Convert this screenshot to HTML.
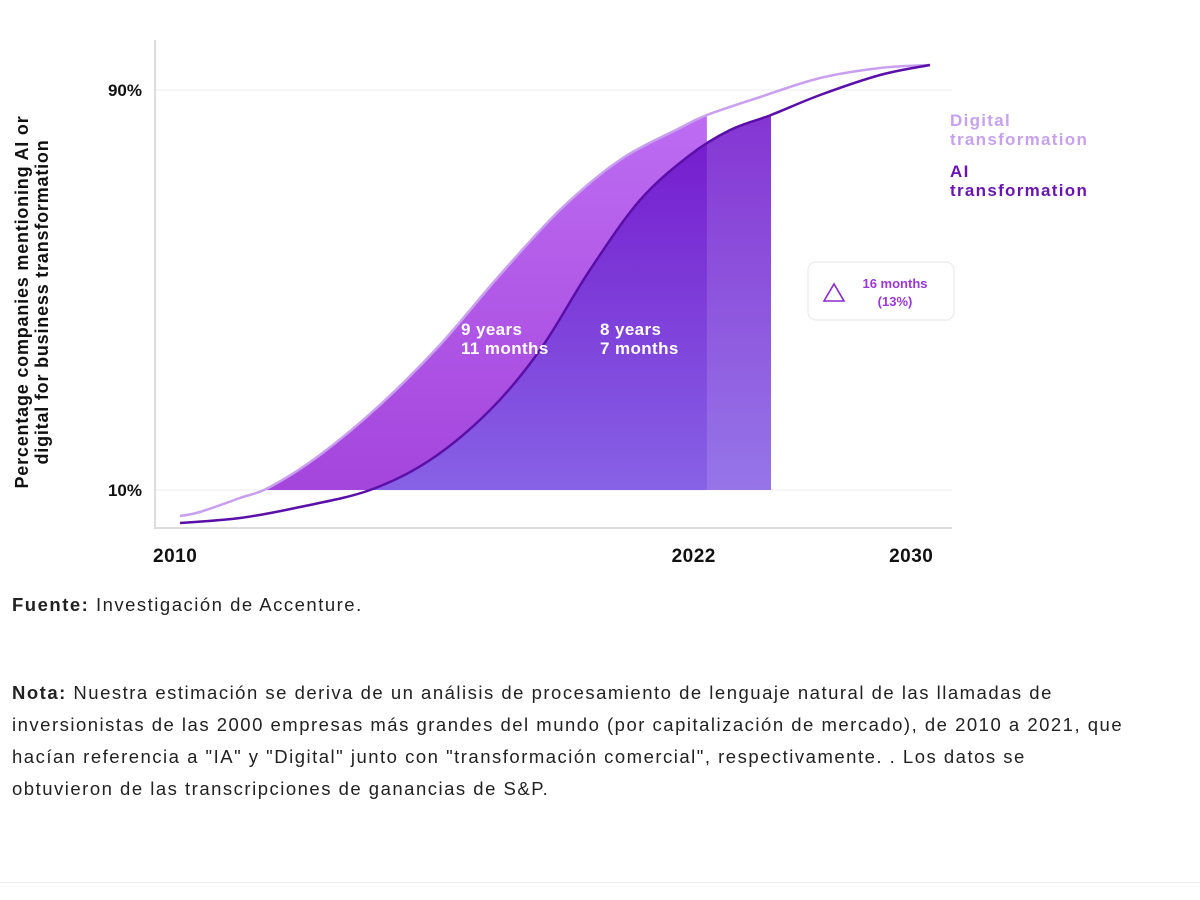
<!DOCTYPE html>
<html><head><meta charset="utf-8"><style>
body{margin:0;background:#fff;width:1200px;height:900px;overflow:hidden;font-family:"Liberation Sans",sans-serif}
.t{position:absolute;font-size:18.5px;color:#222;line-height:32px;letter-spacing:1.5px}
</style></head><body>
<svg width="1200" height="580" style="position:absolute;left:0;top:0">
<defs>
<linearGradient id="gd" x1="0" y1="0" x2="0" y2="1"><stop offset="0" stop-color="#bd6cf2"/><stop offset="1" stop-color="#a445dc"/></linearGradient>
<linearGradient id="ga" x1="0" y1="0" x2="0" y2="1"><stop offset="0" stop-color="#7418cc"/><stop offset="1" stop-color="#8762e6"/></linearGradient>
</defs>
<g id="g"></g>
</svg>
<div class="t" style="left:12px;top:589px"><b>Fuente:</b> Investigación de Accenture.</div>
<div class="t" style="left:12px;top:677px;width:1120px"><b>Nota:</b> Nuestra estimación se deriva de un análisis de procesamiento de lenguaje natural de las llamadas de inversionistas de las 2000 empresas más grandes del mundo (por capitalización de mercado), de 2010 a 2021, que hacían referencia a "IA" y "Digital" junto con "transformación comercial", respectivamente. . Los datos se obtuvieron de las transcripciones de ganancias de S&amp;P.</div>
<div style="position:absolute;left:0;top:882px;width:1200px;height:1px;background:#eee"></div>
<script>
const digitalYears=[2010,2010.53,2011.6,2012.4,2013.73,2015.33,2016.93,2018.53,2020.13,2021.73,2023.33,2024.05,2025.47,2027.07,2028.67,2030];
const digitalPct=[4.8,5.6,8.4,10.6,17,27,39,53,66,76,82.4,85,88.6,92.4,94.4,95];
const aiYears=[2010,2011.6,2013.2,2015.07,2016.67,2018.27,2019.6,2020.93,2022.27,2023.6,2024.67,2025.76,2027.07,2028.67,2030];
const aiPct=[3.4,4.4,6.6,10,16,26,38,54,68,77,82,85,89,93,95];
const digitalEnd=2024.05, aiEnd=2025.76, basePct=10;
const yTicks=[10,90], yTickLabels=["10%","90%"];
const xTicks=[2010,2023.7,2029.5], xTickLabels=["2010","2022","2030"];
const X=v=>180+(v-2010)*37.5, Y=p=>490-(p-10)*5;
const NS="http://www.w3.org/2000/svg", g=document.getElementById('g');
function mk(tag,attrs,txt){const e=document.createElementNS(NS,tag);for(const k in attrs)e.setAttribute(k,attrs[k]);if(txt)e.textContent=txt;g.appendChild(e);return e;}
function interp(xs,ys,x){for(let i=1;i<xs.length;i++)if(x<=xs[i]){const t=(x-xs[i-1])/(xs[i]-xs[i-1]);return ys[i-1]+t*(ys[i]-ys[i-1]);}return ys[ys.length-1];}
function smooth(pts){let d="M"+pts[0][0]+","+pts[0][1];for(let i=0;i<pts.length-1;i++){const p0=pts[Math.max(0,i-1)],p1=pts[i],p2=pts[i+1],p3=pts[Math.min(pts.length-1,i+2)];d+=" C"+(p1[0]+(p2[0]-p0[0])/6)+","+(p1[1]+(p2[1]-p0[1])/6)+" "+(p2[0]-(p3[0]-p1[0])/6)+","+(p2[1]-(p3[1]-p1[1])/6)+" "+p2[0]+","+p2[1];}return d;}
function area(xs,ys,end){const pts=[];for(let i=0;i<xs.length;i++){if(xs[i]<end&&ys[i]>=basePct)pts.push([X(xs[i]),Y(ys[i])]);}
 let sx=xs[0];for(let i=1;i<xs.length;i++)if(ys[i]>=basePct){sx=xs[i-1]+(basePct-ys[i-1])/(ys[i]-ys[i-1])*(xs[i]-xs[i-1]);break;}
 pts.unshift([X(sx),Y(basePct)]);pts.push([X(end),Y(interp(xs,ys,end))]);
 return smooth(pts)+" L"+X(end)+","+Y(basePct)+" Z";}
yTicks.forEach((t,i)=>{const l=mk('line',{x1:155,x2:952,y1:Y(t),y2:Y(t),stroke:'#ececec','stroke-width':1});
 const tx=mk('text',{x:142,y:Y(t)+6,'text-anchor':'end','font-size':17,'font-weight':'bold',fill:'#111'},yTickLabels[i]);});
const ax=mk('path',{d:'M155,40 V528 H952',fill:'none',stroke:'#ddd','stroke-width':2});
xTicks.forEach((t,i)=>{const tx=mk('text',{x:X(t),y:562,'text-anchor':i==0?'start':'middle','font-size':19,'font-weight':'bold',fill:'#111','letter-spacing':0.5},xTickLabels[i]);if(i==0)tx.setAttribute('x',153);});
const a1=mk('path',{d:area(digitalYears,digitalPct,digitalEnd),fill:'url(#gd)'});
const a2=mk('path',{d:area(aiYears,aiPct,aiEnd),fill:'url(#ga)'});
const cp=document.createElementNS(NS,'clipPath');cp.setAttribute('id','cp');const cpp=document.createElementNS(NS,'path');cpp.setAttribute('d',area(aiYears,aiPct,aiEnd));cp.appendChild(cpp);document.querySelector('defs').appendChild(cp);
const ov=mk('rect',{x:X(digitalEnd),y:Y(95),width:X(aiEnd)-X(digitalEnd),height:Y(basePct)-Y(95),fill:'#fff',opacity:0.13,'clip-path':'url(#cp)'});
const l1=mk('path',{d:smooth(digitalYears.map((v,i)=>[X(v),Y(digitalPct[i])])),fill:'none',stroke:'#c9a0f0','stroke-width':2.5});
const l2=mk('path',{d:smooth(aiYears.map((v,i)=>[X(v),Y(aiPct[i])])),fill:'none',stroke:'#5a10a8','stroke-width':2.5});
[[461,'9 years',335],[461,'11 months',354],[600,'8 years',335],[600,'7 months',354]].forEach(a=>{const t=mk('text',{x:a[0],y:a[2],'font-size':17,'font-weight':'bold',fill:'#fff','letter-spacing':0.4},a[1]);});
const yt=mk('text',{transform:'translate(30,302) rotate(-90)','text-anchor':'middle','font-size':18,'font-weight':'bold',fill:'#111','letter-spacing':0.8});
['Percentage companies mentioning AI or','digital for business transformation'].forEach((s,i)=>{const ts=document.createElementNS(NS,'tspan');ts.setAttribute('x',0);ts.setAttribute('y',i==0?-2:18);ts.textContent=s;yt.appendChild(ts);});
[['Digital',126,'#c7a2ec','legend-digital'],['transformation',145,'#c7a2ec','legend-digital'],['AI',177,'#6a16b0','legend-ai'],['transformation',196,'#6a16b0','legend-ai']].forEach(a=>{const t=mk('text',{x:950,y:a[1],'font-size':17,'font-weight':'bold',fill:a[2],'letter-spacing':1.3},a[0]);});
const bx=mk('rect',{x:808,y:262,width:146,height:58,rx:8,fill:'#fff',stroke:'#eee','stroke-width':1.5});
const tri=mk('path',{d:'M824,301 L834,284 L844,301 Z',fill:'none',stroke:'#8a2ac8','stroke-width':1.6});
const c1=mk('text',{x:895,y:288,'text-anchor':'middle','font-size':13,'font-weight':'bold',fill:'#9a38d6'},'16 months');
const c2=mk('text',{x:895,y:306,'text-anchor':'middle','font-size':13,'font-weight':'bold',fill:'#9a38d6'},'(13%)');
</script>
</body></html>
